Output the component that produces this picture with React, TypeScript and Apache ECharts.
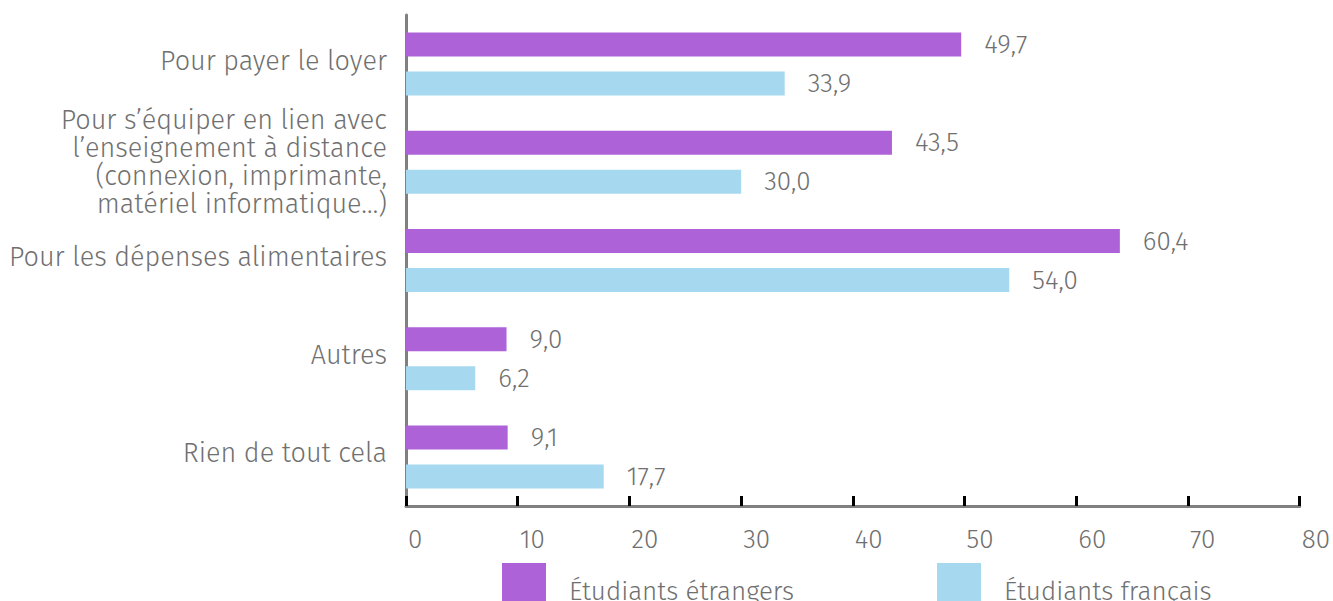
import React, { useEffect, useRef } from "react";
import * as echarts from "echarts";

const categories = [
  "Pour payer le loyer",
  "Pour s’équiper en lien avec\nl’enseignement à distance\n(connexion, imprimante,\nmatériel informatique…)",
  "Pour les dépenses alimentaires",
  "Autres",
  "Rien de tout cela",
];
const seriesNames = ["Étudiants étrangers", "Étudiants français"];
// bar lengths as drawn in the picture
const etrangers = [49.7, 43.5, 63.9, 9.0, 9.1];
const francais = [33.9, 30.0, 54.0, 6.2, 17.7];
// printed value labels
const etrangersLabels = ["49,7", "43,5", "60,4", "9,0", "9,1"];
const francaisLabels = ["33,9", "30,0", "54,0", "6,2", "17,7"];
const xTicks = [0, 10, 20, 30, 40, 50, 60, 70, 80];

const FONT = "'Fira Sans', 'Open Sans', sans-serif";
const TEXT = "#707070";
const PURPLE = "#AE62D8";
const BLUE = "#A6D9EF";

export default function App() {
  const ref = useRef<HTMLDivElement>(null);
  useEffect(() => {
    const chart = echarts.init(ref.current!, null, { renderer: "svg" });
    const label = (arr: string[]) => ({
      show: true,
      position: "right" as const,
      distance: 23,
      color: TEXT,
      fontFamily: FONT,
      fontWeight: 300,
      fontSize: 26,
      formatter: (p: any) => arr[p.dataIndex],
    });
    const legText = {
      color: TEXT,
      fontFamily: FONT,
      fontWeight: 300,
      fontSize: 26,
    };
    const legendBase = {
      orient: "horizontal" as const,
      top: 563,
      padding: 0,
      itemWidth: 44,
      itemHeight: 40,
      icon: "rect",
      formatter: (name: string) => `{t|${name}}`,
      textStyle: {
        ...legText,
        rich: {
          t: { ...legText, padding: [16, 0, 0, 18] },
        },
      },
    };
    const catText = {
      color: TEXT,
      fontFamily: FONT,
      fontWeight: 300,
      fontSize: 27,
    };
    chart.setOption({
      animation: false,
      grid: { left: 406, right: 31, top: 15, bottom: 95, containLabel: false },
      legend: [
        { ...legendBase, left: 502, data: [seriesNames[0]] },
        { ...legendBase, left: 937, data: [seriesNames[1]] },
      ],
      xAxis: {
        type: "value",
        min: xTicks[0],
        max: xTicks[xTicks.length - 1],
        interval: 10,
        splitLine: { show: false },
        axisLine: { show: true, lineStyle: { color: "#808080", width: 3 } },
        axisTick: { show: true, inside: true, length: 10, lineStyle: { color: "#000", width: 3 } },
        axisLabel: {
          color: TEXT,
          fontFamily: FONT,
          fontWeight: 300,
          fontSize: 26,
          margin: 20,
          align: "left",
          padding: [0, 0, 0, 2],
        },
      },
      yAxis: {
        type: "category",
        inverse: true,
        data: categories,
        axisLine: { show: true, lineStyle: { color: "#808080", width: 3 } },
        axisTick: { show: false },
        axisLabel: {
          ...catText,
          lineHeight: 28,
          margin: 19,
          align: "right",
          formatter: (v: string) => (v.indexOf("\n") >= 0 ? v : `{s|${v}}`),
          rich: {
            s: { ...catText, lineHeight: 28, padding: [0, 0, 7, 0] },
          },
        },
      },
      series: [
        {
          name: seriesNames[0],
          type: "bar",
          data: etrangers,
          barWidth: 24,
          barGap: "62.5%",
          itemStyle: { color: PURPLE },
          label: label(etrangersLabels),
        },
        {
          name: seriesNames[1],
          type: "bar",
          data: francais,
          barWidth: 24,
          barGap: "62.5%",
          itemStyle: { color: BLUE },
          label: label(francaisLabels),
        },
      ],
    });
    return () => chart.dispose();
  }, []);
  return <div ref={ref} style={{ width: 1333, height: 601, position: "absolute", left: 0, top: 0 }} />;
}
